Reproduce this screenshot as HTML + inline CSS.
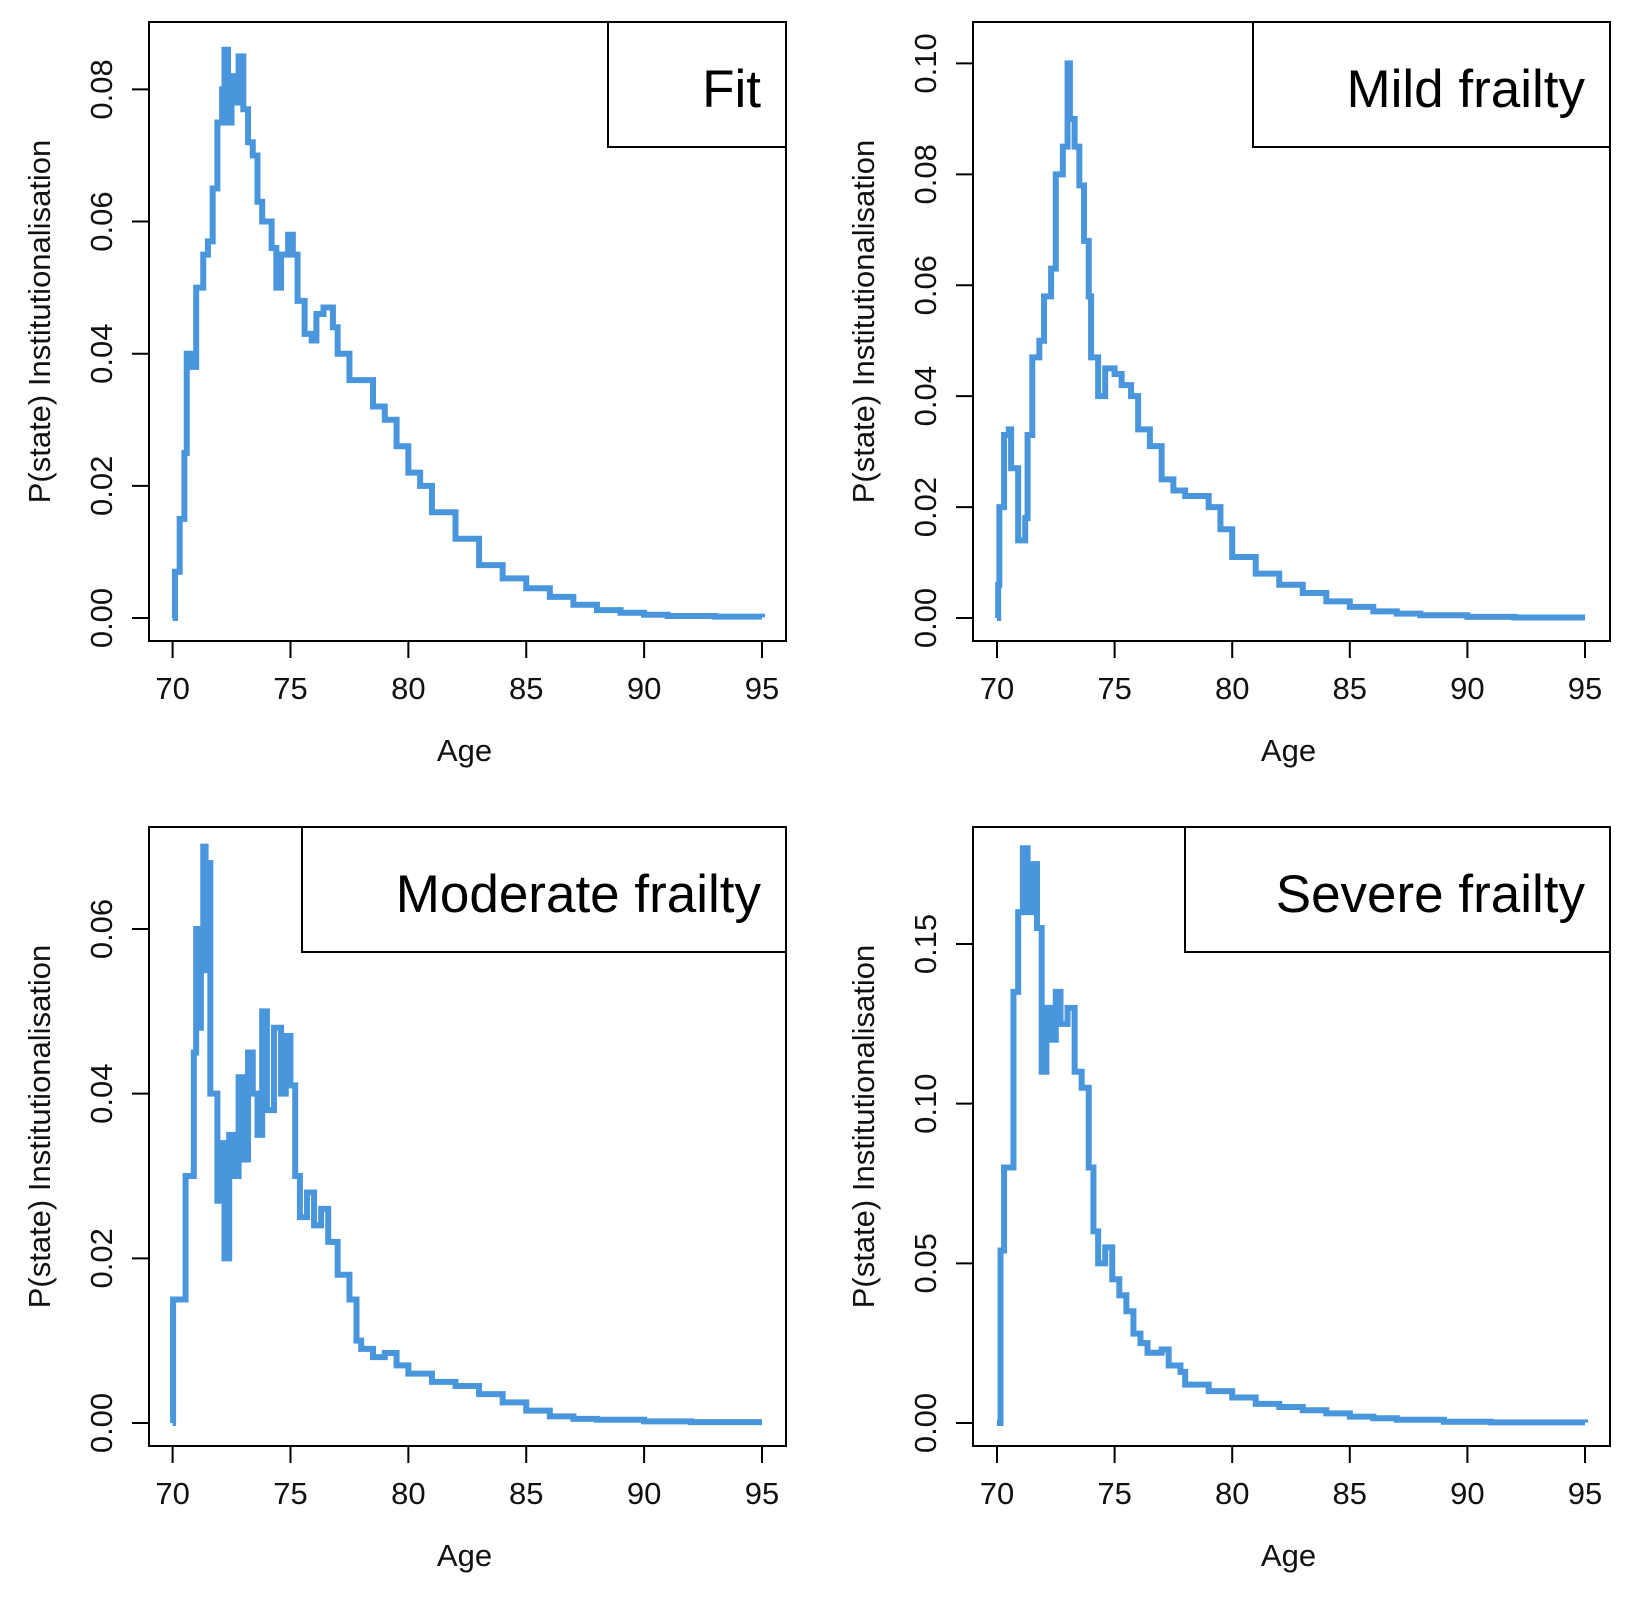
<!DOCTYPE html>
<html><head><meta charset="utf-8"><style>
html,body{margin:0;padding:0;background:#fff;}
svg{display:block;font-family:"Liberation Sans",Arial,sans-serif;}
</style></head><body>
<svg id="fig" width="1630" height="1600" viewBox="0 0 1630 1600" xmlns="http://www.w3.org/2000/svg"></svg>
<script>
const xTicks=[70,75,80,85,90,95];
const fitAges=[70,70.1,70.3,70.5,70.6,70.8,71,71.3,71.5,71.7,71.9,72.1,72.2,72.35,72.5,72.7,72.8,73,73.2,73.4,73.6,73.8,74,74.2,74.4,74.6,74.9,75.1,75.3,75.6,75.9,76.1,76.4,76.8,77,77.5,78,78.5,79,79.5,80,80.5,81,82,83,84,85,86,87,88,89,90,91,93,95];
const fitVals=[0,0.007,0.015,0.025,0.04,0.038,0.05,0.055,0.057,0.065,0.075,0.08,0.086,0.075,0.082,0.078,0.085,0.077,0.072,0.07,0.063,0.06,0.06,0.056,0.05,0.055,0.058,0.055,0.048,0.043,0.042,0.046,0.047,0.044,0.04,0.036,0.036,0.032,0.03,0.026,0.022,0.02,0.016,0.012,0.008,0.006,0.0045,0.0032,0.002,0.0012,0.0008,0.0005,0.0003,0.0002,0.0001];
const mildAges=[70,70.05,70.1,70.3,70.5,70.6,70.9,71.2,71.3,71.5,71.8,72,72.3,72.5,72.8,73,73.1,73.3,73.5,73.7,73.9,74,74.3,74.6,75,75.3,75.7,76,76.5,77,77.5,78,79,79.5,80,81,82,83,84,85,86,87,88,90,92,95];
const mildVals=[0,0.006,0.02,0.033,0.034,0.027,0.014,0.018,0.033,0.047,0.05,0.058,0.063,0.08,0.085,0.1,0.09,0.085,0.078,0.068,0.058,0.047,0.04,0.045,0.044,0.042,0.04,0.034,0.031,0.025,0.023,0.022,0.02,0.016,0.011,0.008,0.006,0.0045,0.003,0.002,0.0012,0.0008,0.0005,0.0002,0.0001,0.0001];
const modAges=[70,70.02,70.5,70.55,70.8,70.9,71,71.1,71.2,71.3,71.4,71.5,71.6,71.8,71.9,72.1,72.2,72.4,72.6,72.8,73,73.2,73.4,73.6,73.8,74,74.3,74.6,74.8,75,75.2,75.4,75.7,76,76.3,76.6,77,77.5,77.8,78,78.5,79,79.5,80,81,82,83,84,85,86,87,88,90,92,95];
const modVals=[0,0.015,0.015,0.03,0.03,0.045,0.06,0.048,0.06,0.07,0.055,0.068,0.04,0.04,0.027,0.034,0.02,0.035,0.03,0.042,0.032,0.045,0.04,0.035,0.05,0.038,0.048,0.04,0.047,0.041,0.03,0.025,0.028,0.024,0.026,0.022,0.018,0.015,0.01,0.009,0.008,0.0085,0.007,0.006,0.005,0.0045,0.0035,0.0025,0.0015,0.0008,0.0005,0.0004,0.0002,0.0001,0.0001];
const sevAges=[70,70.1,70.15,70.3,70.6,70.7,70.9,71.1,71.3,71.5,71.7,71.9,72.1,72.3,72.5,72.7,73,73.3,73.6,73.9,74.1,74.3,74.6,74.9,75.2,75.5,75.8,76.1,76.4,77,77.3,77.8,78,78.5,79,80,81,82,83,84,85,86,87,89,91,95];
const sevVals=[0,0,0.054,0.08,0.08,0.135,0.16,0.18,0.16,0.175,0.155,0.11,0.13,0.12,0.135,0.125,0.13,0.11,0.105,0.08,0.06,0.05,0.055,0.045,0.04,0.035,0.028,0.025,0.022,0.023,0.018,0.016,0.012,0.012,0.01,0.008,0.006,0.005,0.004,0.003,0.002,0.0015,0.001,0.0004,0.0002,0.0001];
const fitTicks=[0,0.02,0.04,0.06,0.08];
const mildTicks=[0,0.02,0.04,0.06,0.08,0.10];
const modTicks=[0,0.02,0.04,0.06];
const sevTicks=[0,0.05,0.10,0.15];

const NS="http://www.w3.org/2000/svg";
const svg=document.getElementById('fig');
function mk(tag,attrs,parent){const e=document.createElementNS(NS,tag);for(const k in attrs)e.setAttribute(k,attrs[k]);(parent||svg).appendChild(e);return e;}

const panels=[
 {key:'fit',label:'Fit',ages:fitAges,vals:fitVals,ticks:fitTicks,dec:2,left:149,right:786,top:22,bottom:641,x70:172.6,x95:762,y0:618,yTopVal:0.08,yTopPx:89.4,leg:[608,22,786,147]},
 {key:'mild',label:'Mild frailty',ages:mildAges,vals:mildVals,ticks:mildTicks,dec:2,left:973,right:1610,top:22,bottom:641,x70:997,x95:1585,y0:618,yTopVal:0.10,yTopPx:63.4,leg:[1253,22,1610,147]},
 {key:'moderate',label:'Moderate frailty',ages:modAges,vals:modVals,ticks:modTicks,dec:2,left:149,right:786,top:827,bottom:1446,x70:172.6,x95:762,y0:1423,yTopVal:0.06,yTopPx:929,leg:[302,827,786,952]},
 {key:'severe',label:'Severe frailty',ages:sevAges,vals:sevVals,ticks:sevTicks,dec:2,left:973,right:1610,top:827,bottom:1446,x70:997,x95:1585,y0:1423,yTopVal:0.15,yTopPx:944,leg:[1185,827,1610,952]}
];

panels.forEach(p=>{
  const g=mk('g',{});
  
  
  const xs=a=>p.x70+(a-70)/(95-70)*(p.x95-p.x70);
  const ys=v=>p.y0-(v/p.yTopVal)*(p.y0-p.yTopPx);
  const box=mk('rect',{x:p.left,y:p.top,width:p.right-p.left,height:p.bottom-p.top,fill:'none',stroke:'#000','stroke-width':2},g);
  
  
  xTicks.forEach(t=>{
    const x=xs(t);
    const tk=mk('line',{x1:x,y1:p.bottom,x2:x,y2:p.bottom+17,stroke:'#000','stroke-width':2},g);
    
    
    const tl=mk('text',{x:x,y:p.bottom+58,'font-size':31,'text-anchor':'middle',fill:'#111'},g);
    tl.textContent=String(t);
    
    
  });
  p.ticks.forEach(t=>{
    const y=ys(t);
    const tk=mk('line',{x1:p.left-17,y1:y,x2:p.left,y2:y,stroke:'#000','stroke-width':2},g);
    
    
    const tx=p.left-37;
    const tl=mk('text',{x:tx,y:y,'font-size':31,'text-anchor':'middle',fill:'#111',transform:`rotate(-90 ${tx} ${y})`},g);
    tl.textContent=t.toFixed(p.dec);
    
    
  });
  const xt=mk('text',{x:(p.left+p.right)/2-3,y:p.bottom+120,'font-size':31,'text-anchor':'middle',fill:'#111'},g);
  xt.textContent='Age';
  
  
  const yx=p.left-99, yy=(p.top+p.bottom)/2-10;
  const yt=mk('text',{x:yx,y:yy,'font-size':31,'text-anchor':'middle',fill:'#111',transform:`rotate(-90 ${yx} ${yy})`},g);
  yt.textContent='P(state) Institutionalisation';
  
  
  let d='';
  p.ages.forEach((a,i)=>{
    const x=xs(a),y=ys(p.vals[i]);
    if(i===0)d+=`M${x},${y}`;else d+=`H${x}V${y}`;
  });
  const line=mk('path',{d:d,fill:'none',stroke:'#4a96dc','stroke-width':6,'stroke-linejoin':'miter'},g);
  
  
  const L=p.leg;
  const lb=mk('rect',{x:L[0],y:L[1],width:L[2]-L[0],height:L[3]-L[1],fill:'#fff',stroke:'#000','stroke-width':2},g);
  
  
  const lt=mk('text',{x:L[2]-25,y:L[1]+85,'font-size':53,'text-anchor':'end',fill:'#000'},g);
  lt.textContent=p.label;
  
  
});
</script>
</body></html>
